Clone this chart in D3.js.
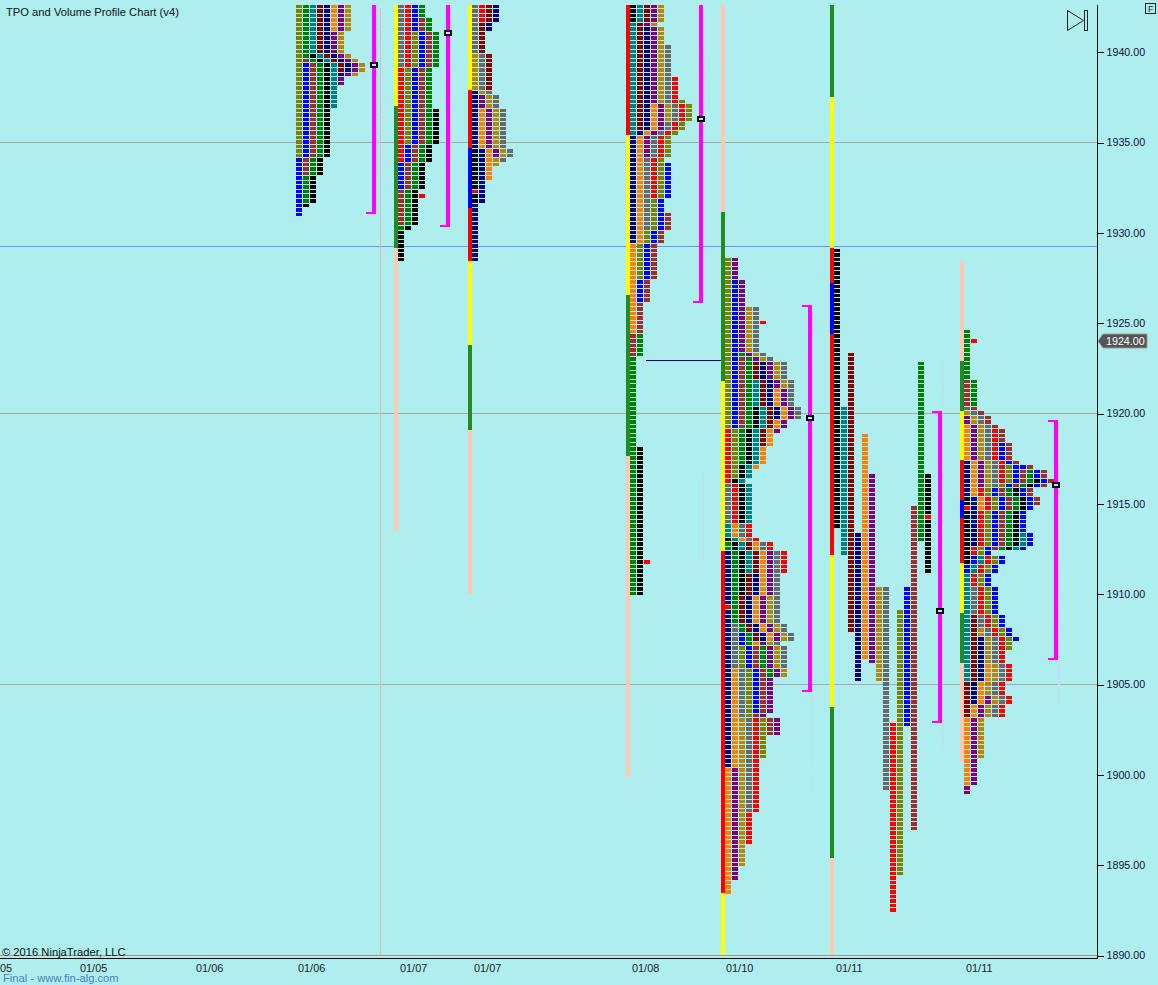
<!DOCTYPE html>
<html><head><meta charset="utf-8">
<style>
html,body{margin:0;padding:0;background:#afeeee;overflow:hidden}
text{font-family:"Liberation Sans",Arial,sans-serif;font-size:11.2px}
</style>
<script src="https://cdn.jsdelivr.net/npm/d3@7"></script></head>
<body><svg id="c" width="1158" height="985"></svg>
<script>
// ---------- DATA (prices) ----------
const TOP = 1942.5;
const ABOVE = 1943;
const yTicks = [1890,1895,1900,1905,1910,1915,1920,1925,1930,1935,1940];
const dateLabels = ["05","01/05","01/06","01/06","01/07","01/07","01/08","01/10","01/11","01/11"];
const palette = {O:"#808000",G:"#008000",T:"#008080",D:"#8b0000",N:"#000080",R:"#ff8000",P:"#800080",Y:"#b8860b",A:"#696969",E:"#ff0000",B:"#0000ff",W:"#a52a2a",K:"#000000"};
const stripeColors = {y:"#ffff00",g:"#228b22",p:"#ffc8b0",r:"#ff0000",b:"#0000ff"};
const sessions = ["s1","s2","s3","s4","s5","s6","s7"];

// TPO periods in time order: [colour, high, low]
const tpo1 = [["O",TOP,1934.25],["B",1939.25,1931],["W",1939.5,1933.25],["G",TOP,1931.75],["K",1939.75,1931.5],["T",TOP,1937],["D",TOP,1939],["N",TOP,1938.75],["R",TOP,1941.25],["P",TOP,1938.25],["Y",TOP,1938.75]];
const tpo2 = [["A",TOP,1939.25],["E",TOP,1934],["O",1941,1935],["B",TOP,1932.5],["W",1941.75,1930.5],["G",TOP,1930.25],["K",1936.75,1928.5]];
const tpo3 = [["K",1934.5,1931.75],["N",1937.75,1928.5],["R",1936.75,1933],["P",1937.5,1934.25],["Y",1939.75,1933.75],["A",TOP,1934],["E",TOP,1941.75],["D",TOP,1938],["N",TOP,1941.25]];
const tpo4 = [["K",TOP,1941.75],["T",TOP,1935.5],["D",TOP,1935.75],["N",1941.25,1929.5],["R",1937,1924.5],["P",TOP,1934.25],["Y",TOP,1936.25],["A",1940.25,1930.25],["E",1938.5,1932],["O",1937.25,1927.5],["B",1933.75,1926.25],["W",1931,1923.25],["G",1924.25,1910],["K",1918,1910]];
const tpo5 = [["N",1912.25,1900.5],["R",1905.75,1893.5],["P",1900.25,1894.25],["Y",1903,1895],["A",1916,1914],["A",1908.25,1898],["E",1919,1914],["E",1903,1896.25],["O",1928.5,1916.5],["O",1907,1901],["B",1927.25,1919.25],["B",1907.75,1903.5],["W",1923,1919.25],["W",1907,1902.25],["G",1923.25,1917.25],["G",1912.75,1905.5],["K",1920.25,1914],["K",1913,1910],["T",1921.75,1911.25],["D",1922.75,1918.25],["D",1912.75,1907.5],["N",1922.75,1919.75],["N",1911,1907.5],["R",1921.25,1917],["R",1913.75,1907.25],["P",1928.5,1919],["P",1912.25,1902.25],["Y",1925.75,1921.5],["Y",1909.75,1905.5],["A",1925.75,1919.75],["A",1913.75,1906],["E",1925,1925],["E",1913.75,1911.25]];
const tpo6 = [["K",1929,1913.75],["T",1920.25,1912.25],["D",1923.25,1908],["N",1913.25,1905.25],["R",1918.75,1906.5],["P",1916.5,1906.25],["Y",1910.25,1905.25],["A",1910.25,1899.25],["E",1902.75,1892.5],["O",1909,1894.5],["B",1910.25,1902.75],["W",1914.75,1897],["G",1922.75,1913],["K",1916.5,1911.25]];
const tpo7 = [["K",1915.25,1911.75],["B",1912,1911.25],["T",1912,1905.25],["D",1908.75,1903.25],["N",1917.25,1912.75],["N",1907.5,1904],["R",1919.25,1914.75],["R",1906,1899.5],["P",1919.75,1916],["P",1904.25,1899],["Y",1920,1916],["Y",1908,1901],["A",1920.25,1916],["A",1910.25,1903.25],["E",1919,1916.25],["E",1915.75,1903.25],["O",1917,1907],["B",1918.25,1907.5],["W",1916.75,1912.5],["G",1916.75,1912.5],["K",1916.25,1912.5],["T",1913.25,1912.5],["B",1917,1912.5],["W",1921.75,1915],["G",1924.5,1920.5]];
// Red single prints: [price, column]
const marks2 = [[1932,3]];
const marks3 = [[1932.25,0]];
const marks4 = [[1911.75,2]];
const marks5 = [[1909.25,0]];
const marks6 = [[1914.25,13]];
const marks7 = [[1914.75,0],[1924,1]];

// Side stripes: [colour, high, low]
const stripe2 = [["y",ABOVE,1937],["g",1937,1929.15],["p",1929.15,1913.5]];
const stripe3 = [["y",ABOVE,1937.9],["r",1937.9,1934.7],["b",1934.7,1931.4],["r",1931.4,1928.45],["y",1928.45,1923.8],["g",1923.8,1919.1],["p",1919.1,1910]];
const stripe4 = [["r",ABOVE,1935.4],["y",1935.4,1926.55],["g",1926.55,1917.65],["p",1917.65,1899.9]];
const stripe5 = [["p",ABOVE,1931.15],["g",1931.15,1921.8],["y",1921.8,1912.4],["r",1912.4,1893.45],["y",1893.45,1889.9]];
const stripe6 = [["g",ABOVE,1937.5],["y",1937.5,1929.15],["r",1929.15,1927.2],["b",1927.2,1924.4],["r",1924.4,1912.15],["y",1912.15,1903.75],["g",1903.75,1895.4],["p",1895.4,1889.9]];
const stripe7 = [["p",1928.45,1922.9],["g",1922.9,1920.15],["y",1920.15,1917.45],["r",1917.45,1915.2],["b",1915.2,1914.2],["r",1914.2,1911.7],["y",1911.7,1908.95],["g",1908.95,1906.2],["p",1906.2,1900.7]];

// Value-area brackets: [high, low, point of control]
const bracketHigh = [ABOVE,ABOVE,null,ABOVE,1926,1920.15,1919.65];
const bracketLow  = [1931.1,1930.4,null,1926.2,1904.65,1902.9,1906.4];
const pocPrice    = [1939.28,1941.04,null,1936.25,1919.75,1909.04,1916];
const bracketFoot = [false,false,false,false,true,true,true];

// Volume rows beside the bracket: [high, low, volume]
const vol1 = [[TOP,1933.25,2]];
const vol2 = [[TOP,1934.25,2]];
const vol3 = [];
const vol4 = [[1939.75,1936.75,2],[1938.75,1938.5,3],[1916.5,1912,1]];
const vol5 = [[1925.25,1924.5,3],[1922.5,1918,1],[1904.5,1900.75,1],[1899.75,1899,1]];
const vol6 = [[1922.75,1914,1],[1916.5,1916.5,2],[1908.25,1901.5,1]];
const vol7 = [[1919.75,1911.5,1],[1917,1915,2],[1911.5,1905,2],[1905,1903.75,1]];

const horizontalLines = [[1935,"#a8a8a8"],[1929.25,"#6f8fff"],[1920,"#a8a8a8"],[1905,"#a8a8a8"]];
const nakedPoc = [1922.95];
const lastPrice = 1924;

// ---------- LAYOUT ----------
const W=1158,H=985;
const svg=d3.select("#c");
const y=d3.scaleLinear().domain([1890,1940]).range([955.5,52.2]);
const profileX=d3.scaleOrdinal().domain(sessions).range([296,398,472,630,725,834,964]);
const bracketX=d3.scaleOrdinal().domain(sessions).range([372,446,null,699,808,938,1054]);
const colX=d3.scaleLinear().domain([0,1]).range([0,7]);
const volW=d3.scaleLinear().domain([0,3]).range([0,3.4]);
const dateXPos=[0,80,196,298,400,474,632,726,836,966];
const rowTop=p=>Math.round(y(p+0.125));
const rowH=p=>Math.max(2,Math.round(y(p-0.125))-Math.round(y(p+0.125))-1);
const prices=(hi,lo)=>d3.range(0,Math.round((hi-lo)/0.25)+1).map(i=>hi-i*0.25);

svg.append("rect").attr("width",W).attr("height",H).attr("fill","#afeeee");
svg.append("defs").append("clipPath").attr("id","plot").append("rect").attr("x",0).attr("y",5).attr("width",1097).attr("height",951);
const plot=svg.append("g").attr("clip-path","url(#plot)").attr("shape-rendering","crispEdges");

plot.selectAll(".h").data(horizontalLines).join("line").attr("x1",0).attr("x2",1097)
  .attr("y1",d=>Math.floor(y(d[0]))+.5).attr("y2",d=>Math.floor(y(d[0]))+.5).attr("stroke",d=>d[1]);
plot.append("line").attr("x1",380.5).attr("x2",380.5).attr("y1",8).attr("y2",955).attr("stroke","#e0b8b4");
plot.selectAll(".npoc").data(nakedPoc).join("line").attr("x1",646).attr("x2",722)
  .attr("y1",d=>Math.floor(y(d))+.5).attr("y2",d=>Math.floor(y(d))+.5).attr("stroke","#000080");

const tpos=[tpo1,tpo2,tpo3,tpo4,tpo5,tpo6,tpo7];
const marks=[[],marks2,marks3,marks4,marks5,marks6,marks7];
const stripes=[[],stripe2,stripe3,stripe4,stripe5,stripe6,stripe7];
const vols=[vol1,vol2,vol3,vol4,vol5,vol6,vol7];
const fixedColumns=[false,false,false,false,false,true,false];

sessions.forEach((s,i)=>{
  const x0=profileX(s);
  const g=plot.append("g");
  g.selectAll(".st").data(stripes[i]).join("rect")
    .attr("x",x0-4).attr("width",4)
    .attr("y",d=>Math.round(y(d[1]))).attr("height",d=>Math.round(y(d[2]))-Math.round(y(d[1])))
    .attr("fill",d=>stripeColors[d[0]]);
  const counts=new Map(), cells=[];
  tpos[i].forEach((per,k)=>{
    prices(per[1],per[2]).forEach(p=>{
      const c=counts.get(p)||0;
      cells.push({p,col:fixedColumns[i]?k:c,color:palette[per[0]]});
      counts.set(p,c+1);
    });
  });
  marks[i].forEach(m=>cells.push({p:m[0],col:m[1],color:palette.E}));
  g.selectAll(".cell").data(cells).join("rect")
    .attr("x",d=>x0+colX(d.col)).attr("width",6)
    .attr("y",d=>rowTop(d.p)).attr("height",d=>rowH(d.p)).attr("fill",d=>d.color);
  const bx=bracketX(s);
  if(bx===null) return;
  const vc=[];
  vols[i].forEach(v=>prices(v[0],v[1]).forEach(p=>vc.push({p,v:v[2]})));
  g.selectAll(".vol").data(vc).join("rect")
    .attr("x",bx+4).attr("width",d=>Math.max(1,Math.round(volW(d.v))))
    .attr("y",d=>rowTop(d.p)).attr("height",d=>rowH(d.p)).attr("fill","#c4d8f6");
  const yTop=Math.round(y(bracketHigh[i]));
  const yBot=Math.round(y(bracketLow[i]));
  g.append("rect").attr("x",bx).attr("width",4).attr("y",yTop).attr("height",yBot-yTop+1).attr("fill","#ff00ff");
  g.append("rect").attr("x",bx-6).attr("width",6).attr("y",yBot-1).attr("height",2).attr("fill","#ff00ff");
  if(bracketFoot[i]) g.append("rect").attr("x",bx-6).attr("width",6).attr("y",yTop).attr("height",2).attr("fill","#ff00ff");
  const py=Math.floor(y(pocPrice[i]));
  g.append("rect").attr("x",bx-2).attr("y",py-3).attr("width",8).attr("height",6).attr("fill","#000");
  g.append("rect").attr("x",bx).attr("y",py-1).attr("width",4).attr("height",2).attr("fill","#afeeee");
});

const frame=svg.append("g").attr("shape-rendering","crispEdges");
frame.append("line").attr("x1",0).attr("x2",1097).attr("y1",955.5).attr("y2",955.5).attr("stroke","#9a9a9a");
frame.append("line").attr("x1",0).attr("x2",1097).attr("y1",958.5).attr("y2",958.5).attr("stroke","#000");

const axis=d3.axisRight(y).tickValues(yTicks).tickFormat(d3.format(".2f")).tickSize(6).tickPadding(3);
const ag=svg.append("g").attr("transform","translate(1097.5,0)").call(axis);
ag.select(".domain").remove();
ag.selectAll("line").attr("stroke","#000").attr("shape-rendering","crispEdges");
ag.selectAll("text").attr("fill","#10103a").style("font-size","10.7px").style("font-family",'"Liberation Sans",Arial,sans-serif');
svg.append("line").attr("x1",1097.5).attr("x2",1097.5).attr("y1",5).attr("y2",959).attr("stroke","#000").attr("shape-rendering","crispEdges");

svg.selectAll(".d").data(dateLabels).join("text").attr("x",(d,i)=>dateXPos[i]).attr("y",972).attr("fill","#222").style("font-size","10.9px").text(d=>d);

svg.append("text").attr("x",6).attr("y",16).attr("fill","#111").text("TPO and Volume Profile Chart (v4)");
svg.append("text").attr("x",2).attr("y",956).attr("fill","#111").text("© 2016 NinjaTrader, LLC");
svg.append("text").attr("x",3).attr("y",982).attr("fill","#3d85c6").text("Final - www.fin-alg.com");

const ty=Math.round(y(lastPrice));
svg.append("path").attr("d",`M1098 ${ty} L1103 ${ty-7} H1147 V${ty+7} H1103 Z`).attr("fill","#555").attr("stroke","#999");
svg.append("text").attr("x",1106).attr("y",ty+4).attr("fill","#fff").style("font-size","10.7px").text(d3.format(".2f")(lastPrice));

svg.append("path").attr("d","M1067.5 10.5 L1083.5 20.5 L1067.5 30.5 Z").attr("fill","none").attr("stroke","#222");
svg.append("rect").attr("x",1084.5).attr("y",10.5).attr("width",3).attr("height",20).attr("fill","none").attr("stroke","#222");
svg.append("rect").attr("x",1145.5).attr("y",3.5).attr("width",10).attr("height",10).attr("fill","none").attr("stroke","#222");
svg.append("text").attr("x",1148).attr("y",12).attr("fill","#222").style("font-size","9px").text("F");
</script></body></html>
